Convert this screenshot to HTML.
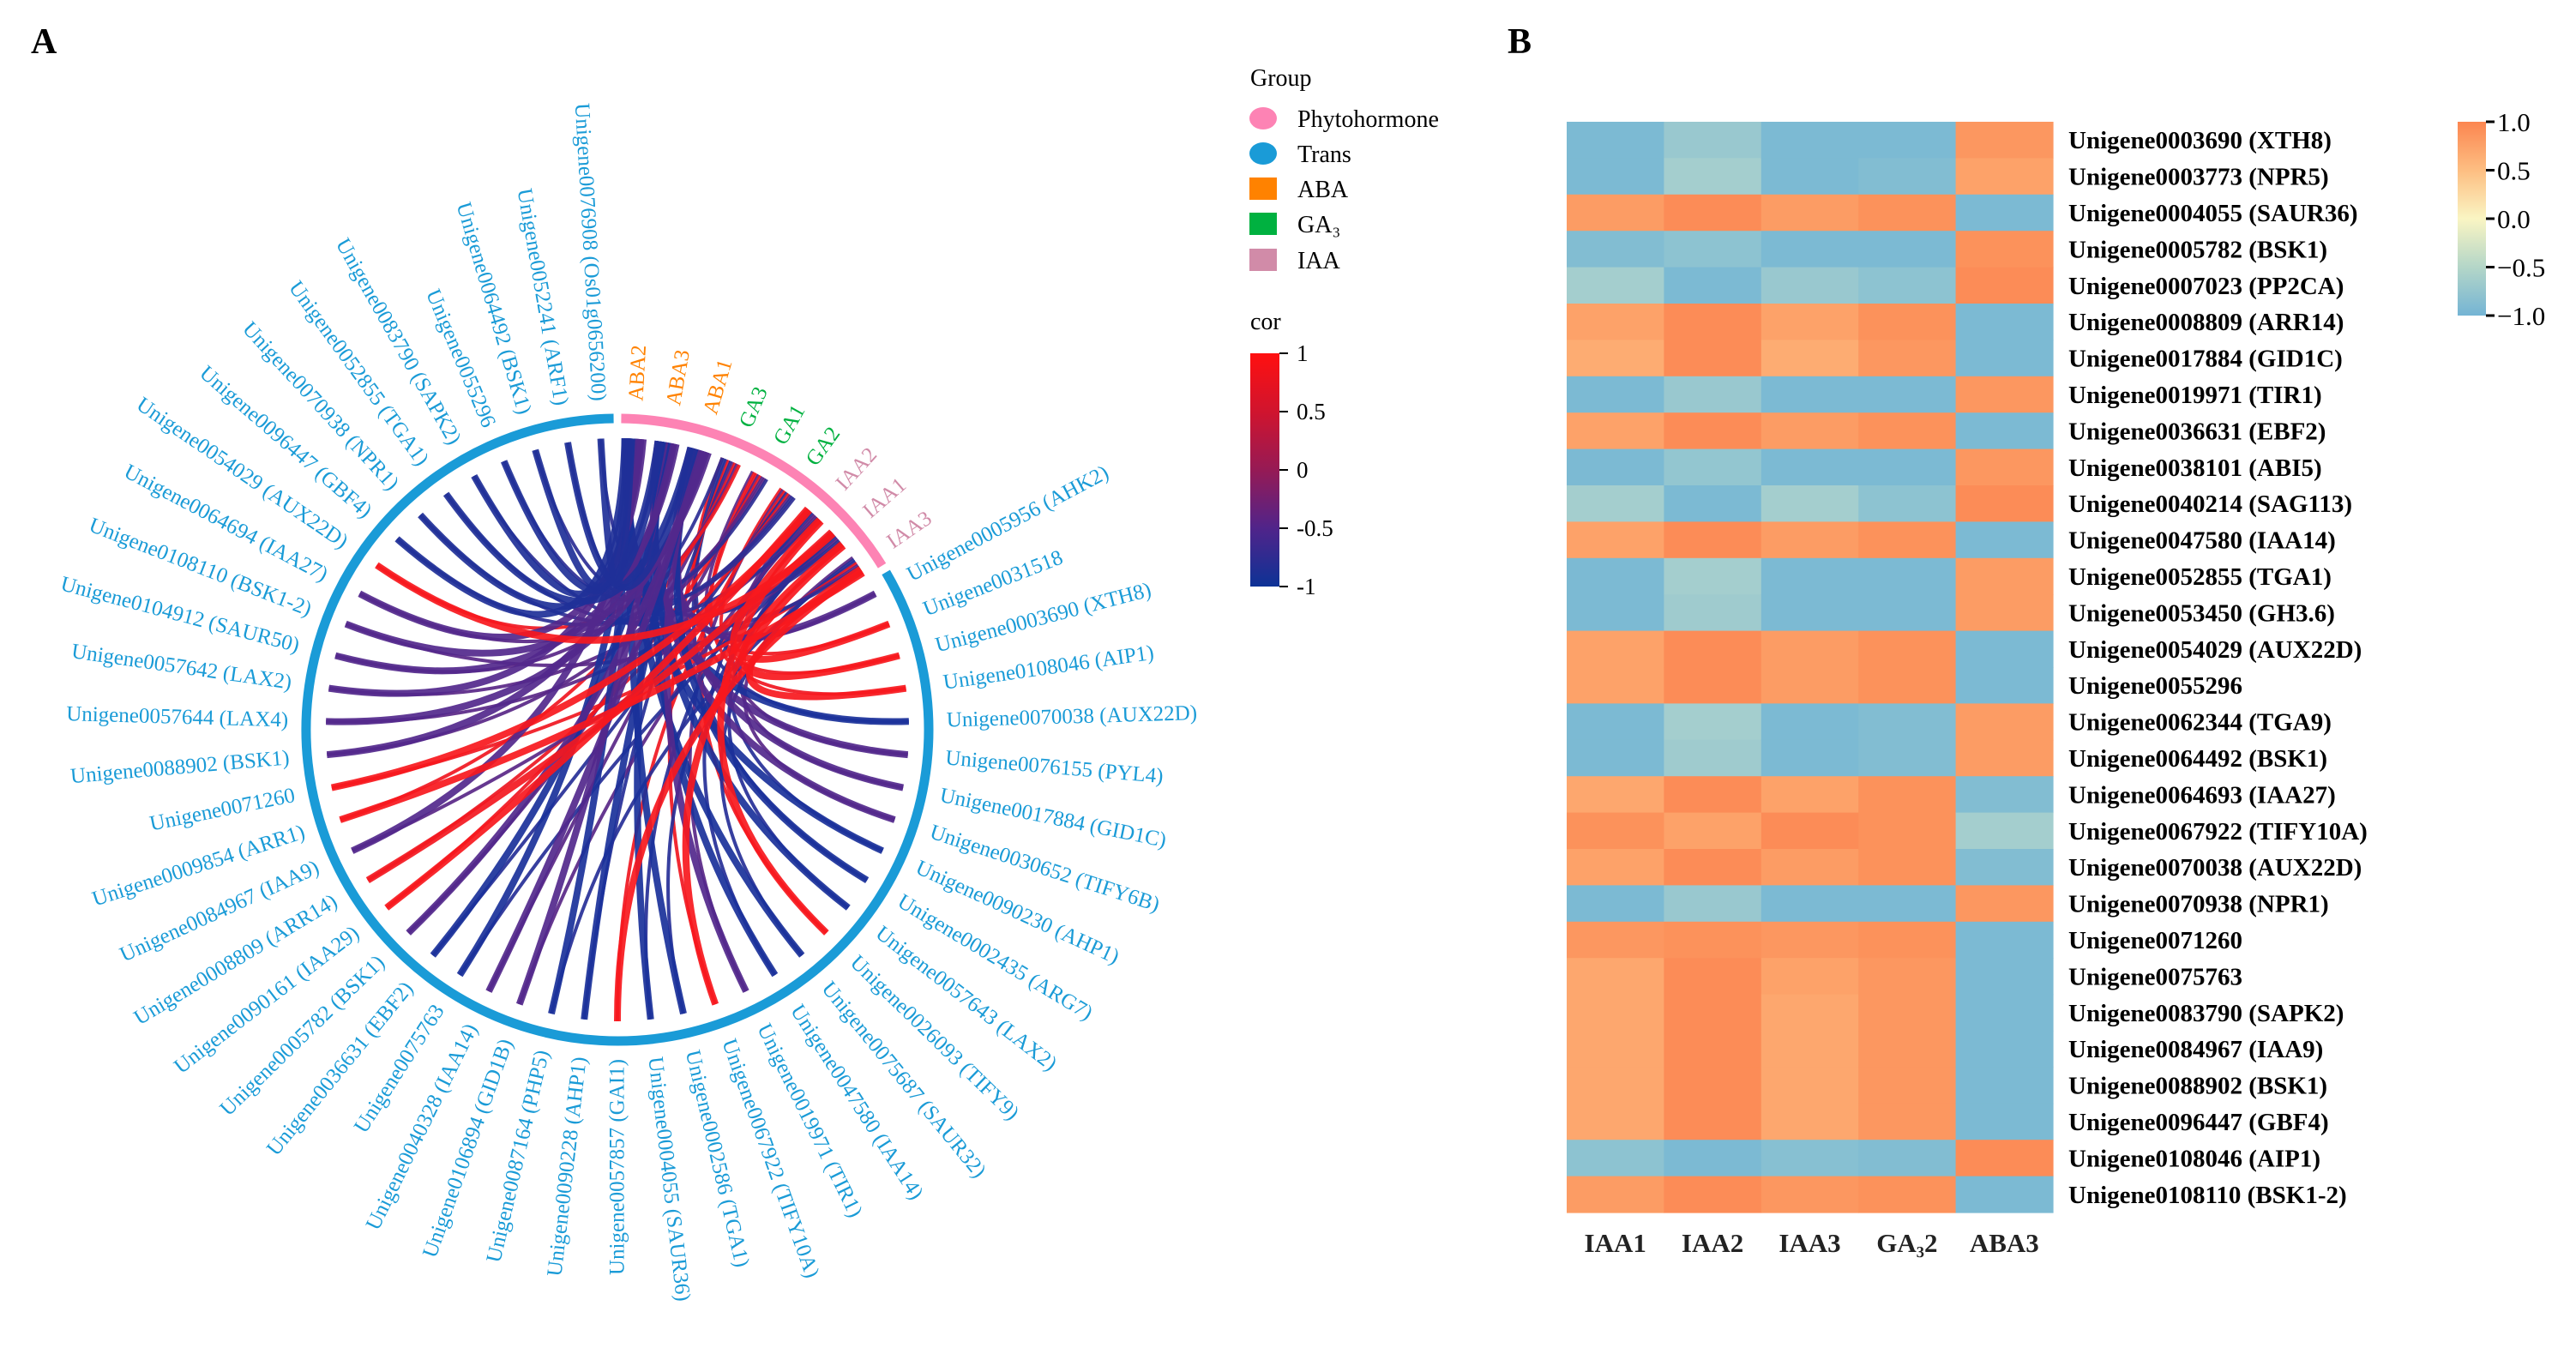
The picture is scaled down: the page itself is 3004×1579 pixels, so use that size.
<!DOCTYPE html>
<html><head><meta charset="utf-8"><style>
html,body{margin:0;padding:0;background:#fff;}
svg{display:block;font-family:"Liberation Serif",serif;}
</style></head><body>
<svg id="fig" width="3004" height="1579" viewBox="0 0 3004 1579" xmlns="http://www.w3.org/2000/svg">
<defs>
<linearGradient id="corGrad" x1="0" y1="1" x2="0" y2="0">
<stop offset="0" stop-color="#0d3296"/><stop offset="0.25" stop-color="#50248a"/><stop offset="0.5" stop-color="#961a55"/><stop offset="0.75" stop-color="#d0142e"/><stop offset="1" stop-color="#ff1010"/>
</linearGradient>
<linearGradient id="heatGrad" x1="0" y1="1" x2="0" y2="0">
<stop offset="0" stop-color="#74b4d4"/><stop offset="0.25" stop-color="#b4d6c8"/><stop offset="0.5" stop-color="#faf5c3"/><stop offset="0.75" stop-color="#fdbe82"/><stop offset="1" stop-color="#fc8550"/>
</linearGradient>
</defs>
<text x="36" y="62" font-size="42" font-weight="bold">A</text>
<text x="1758" y="62" font-size="42" font-weight="bold">B</text>
<g id="chord"></g>
<g id="legend">
<text x="1458" y="100" font-size="28">Group</text>
<ellipse cx="1473" cy="138" rx="16" ry="13" fill="#fd83b4"/>
<text x="1513" y="148" font-size="28">Phytohormone</text>
<ellipse cx="1473" cy="179" rx="16" ry="13" fill="#1a9bd7"/>
<text x="1513" y="189" font-size="28">Trans</text>
<rect x="1457" y="207" width="32" height="26" fill="#ff8200"/>
<text x="1513" y="230" font-size="28">ABA</text>
<rect x="1457" y="248" width="32" height="26" fill="#00b140"/>
<text x="1513" y="271" font-size="28">GA₃</text>
<rect x="1457" y="290" width="32" height="26" fill="#d18ba8"/>
<text x="1513" y="313" font-size="28">IAA</text>
<text x="1458" y="384" font-size="28">cor</text>
<rect x="1458" y="412" width="34" height="272" fill="url(#corGrad)"/>
</g>
<g id="heat"></g>
<rect x="2866" y="142" width="33" height="226" fill="url(#heatGrad)"/>
<g id="hcb"></g>
</svg>
<script>
const NS="http://www.w3.org/2000/svg";
// ---- chord data ----
const hormones=["ABA2","ABA3","ABA1","GA3","GA1","GA2","IAA2","IAA1","IAA3"];
const hormoneGroup=["ABA","ABA","ABA","GA","GA","GA","IAA","IAA","IAA"];
const genes=["Unigene0005956 (AHK2)","Unigene0031518","Unigene0003690 (XTH8)","Unigene0108046 (AIP1)","Unigene0070038 (AUX22D)","Unigene0076155 (PYL4)","Unigene0017884 (GID1C)","Unigene0030652 (TIFY6B)","Unigene0090230 (AHP1)","Unigene0002435 (ARG7)","Unigene0057643 (LAX2)","Unigene0026093 (TIFY9)","Unigene0075687 (SAUR32)","Unigene0047580 (IAA14)","Unigene0019971 (TIR1)","Unigene0067922 (TIFY10A)","Unigene0002586 (TGA1)","Unigene0004055 (SAUR36)","Unigene0057857 (GAI1)","Unigene0090228 (AHP1)","Unigene0087164 (PHP5)","Unigene0106894 (GID1B)","Unigene0040328 (IAA14)","Unigene0075763","Unigene0036631 (EBF2)","Unigene0005782 (BSK1)","Unigene0090161 (IAA29)","Unigene0008809 (ARR14)","Unigene0084967 (IAA9)","Unigene0009854 (ARR1)","Unigene0071260","Unigene0088902 (BSK1)","Unigene0057644 (LAX4)","Unigene0057642 (LAX2)","Unigene0104912 (SAUR50)","Unigene0108110 (BSK1-2)","Unigene0064694 (IAA27)","Unigene0054029 (AUX22D)","Unigene0096447 (GBF4)","Unigene0070938 (NPR1)","Unigene0052855 (TGA1)","Unigene0083790 (SAPK2)","Unigene0055296","Unigene0064492 (BSK1)","Unigene0052241 (ARF1)","Unigene0076908 (Os01g0656200)"];
const geneCor=[-0.5,0.9,0.9,0.9,-0.95,-0.5,-0.5,-0.5,-0.95,-0.95,-0.95,0.9,-0.95,-0.95,-0.5,0.9,-0.95,-0.95,0.9,-0.95,-0.95,-0.5,-0.5,-0.95,-0.95,-0.5,0.9,0.85,-0.5,0.9,0.9,-0.5,-0.5,-0.5,-0.5,-0.5,-0.5,0.9,-0.9,-0.9,-0.9,-0.9,-0.9,-0.9,-0.9,-0.9];
const geneTarget=[2,6,7,8,0,1,2,1,0,2,1,6,0,1,2,7,0,1,8,2,0,1,2,0,1,2,6,7,0,8,6,1,2,0,1,2,0,7,0,1,2,0,1,0,2,0];
const geneTarget2=[4,3,5,4,3,6,7,8,6,3,7,4,8,6,5,3,7,6,5,3,8,6,4,7,5,3,4,5,7,3,8,4,6,5,3,8,4,3,5,6,7,8,4,5,3,7];
// ---- heatmap data ----
const heatCols=["IAA1","IAA2","IAA3","GA₃2","ABA3"];
const heatRows=["Unigene0003690 (XTH8)","Unigene0003773 (NPR5)","Unigene0004055 (SAUR36)","Unigene0005782 (BSK1)","Unigene0007023 (PP2CA)","Unigene0008809 (ARR14)","Unigene0017884 (GID1C)","Unigene0019971 (TIR1)","Unigene0036631 (EBF2)","Unigene0038101 (ABI5)","Unigene0040214 (SAG113)","Unigene0047580 (IAA14)","Unigene0052855 (TGA1)","Unigene0053450 (GH3.6)","Unigene0054029 (AUX22D)","Unigene0055296","Unigene0062344 (TGA9)","Unigene0064492 (BSK1)","Unigene0064693 (IAA27)","Unigene0067922 (TIFY10A)","Unigene0070038 (AUX22D)","Unigene0070938 (NPR1)","Unigene0071260","Unigene0075763","Unigene0083790 (SAPK2)","Unigene0084967 (IAA9)","Unigene0088902 (BSK1)","Unigene0096447 (GBF4)","Unigene0108046 (AIP1)","Unigene0108110 (BSK1-2)"];
const colIAA1=[-0.95,-0.95,0.8,-0.9,-0.6,0.75,0.65,-0.95,0.75,-0.95,-0.6,0.75,-0.95,-0.95,0.75,0.75,-0.95,-0.95,0.7,0.9,0.75,-0.95,0.85,0.7,0.7,0.7,0.7,0.7,-0.8,0.8];
const colIAA2=[-0.7,-0.6,0.95,-0.8,-0.95,0.95,0.95,-0.7,0.95,-0.75,-0.95,0.95,-0.6,-0.65,0.95,0.95,-0.6,-0.65,0.95,0.75,0.95,-0.7,0.9,0.95,0.95,0.95,0.95,0.95,-0.95,0.95];
const colIAA3=[-0.95,-0.95,0.8,-0.95,-0.7,0.75,0.65,-0.95,0.8,-0.95,-0.6,0.8,-0.95,-0.95,0.8,0.8,-0.95,-0.95,0.75,0.95,0.8,-0.95,0.85,0.75,0.7,0.7,0.7,0.7,-0.85,0.85];
const colGA2=[-0.95,-0.9,0.9,-0.95,-0.8,0.9,0.85,-0.95,0.9,-0.95,-0.8,0.9,-0.95,-0.95,0.9,0.9,-0.9,-0.9,0.9,0.9,0.9,-0.95,0.9,0.85,0.85,0.85,0.85,0.85,-0.9,0.9];
const colABA3=[0.85,0.75,-0.95,0.9,0.95,-0.95,-0.95,0.85,-0.95,0.85,0.95,-0.95,0.8,0.8,-0.95,-0.95,0.8,0.8,-0.9,-0.6,-0.9,0.85,-0.95,-0.95,-0.95,-0.95,-0.95,-0.95,0.95,-0.95];
const heatTicks=[1,0.5,0,-0.5,-1];
const heatTickLabels=["1.0","0.5","0.0","\u22120.5","\u22121.0"];
const corTicks=[1,0.5,0,-0.5,-1];
const corTickLabels=["1","0.5","0","-0.5","-1"];

function mk(tag,attrs,parent){const e=document.createElementNS(NS,tag);for(const k in attrs)e.setAttribute(k,attrs[k]);parent.appendChild(e);return e;}
function interp(stops,v){const t=(v+1)/2*(stops.length-1);const i=Math.max(0,Math.min(stops.length-2,Math.floor(t)));const f=t-i;const a=stops[i],b=stops[i+1];return "rgb("+[0,1,2].map(k=>Math.round(a[k]+(b[k]-a[k])*f)).join(",")+")";}
const corStops=[[20,50,155],[82,40,140],[150,25,85],[215,20,45],[255,25,25]];
const heatStops=[[118,183,212],[176,212,204],[250,245,195],[253,188,128],[252,135,82]];

// ---- chord diagram ----
const cx=720,cy=851,R=363,Rend=340,Rlab=384;
const N=hormones.length+genes.length, step=360/N;
const ch=document.getElementById('chord');
function pt(r,deg){const a=(deg-90)*Math.PI/180;return [cx+r*Math.cos(a),cy+r*Math.sin(a)];}
function arc(r,a0,a1,color,name){const p0=pt(r,a0),p1=pt(r,a1);const large=(a1-a0)>180?1:0;
 const e=mk('path',{d:`M${p0[0]},${p0[1]} A${r},${r} 0 ${large} 1 ${p1[0]},${p1[1]}`,fill:'none',stroke:color,'stroke-width':11},ch);
 
 }
arc(R,0.7,hormones.length*step-0.7,'#fd83b4','phytohormone-track');
arc(R,hormones.length*step+0.7,359.3,'#1a9bd7','trans-track');
const hAng=i=>(i+0.5)*step, gAng=i=>(hormones.length+i+0.5)*step;
const linkCount=new Array(hormones.length).fill(0);
function link(gi,hi,w,cor,name){
 const off=((linkCount[hi]++)%9-4)*0.45;
 const p1=pt(Rend,gAng(gi)), p2=pt(Rend,hAng(hi)+off);
 const e=mk('path',{d:`M${p1[0]},${p1[1]} Q${cx},${cy} ${p2[0]},${p2[1]}`,fill:'none',stroke:interp(corStops,cor),'stroke-width':w,'stroke-opacity':0.92},ch);
 
 }
genes.forEach((g,i)=>{link(i,geneTarget2[i],4,geneCor[i]*0.9,'chord-link-secondary');});
genes.forEach((g,i)=>{link(i,geneTarget[i],8,geneCor[i],'chord-link');});
const hColor={ABA:'#ff8200',GA:'#00b140',IAA:'#d18ba8'};
function label(text,deg,color,name){
 const p=pt(Rlab,deg);let rot,anchor;
 if(deg<180){rot=deg-90;anchor='start';}else{rot=deg+90;anchor='end';}
 const e=mk('text',{x:p[0],y:p[1],'font-size':25,fill:color,'text-anchor':anchor,'dominant-baseline':'central',transform:`rotate(${rot},${p[0]},${p[1]})`},ch);
 e.textContent=text;
 
 }
hormones.forEach((h,i)=>label(h,hAng(i),hColor[hormoneGroup[i]],'hormone-label'));
genes.forEach((g,i)=>label(g,gAng(i),'#1a9bd7','gene-label'));

// cor colorbar ticks
const lg=document.getElementById('legend');
const cbY=v=>684-(v+1)/2*272;
corTicks.forEach((v,i)=>{const y=cbY(v);
 const t=mk('line',{x1:1492,x2:1502,y1:y,y2:y,stroke:'#000','stroke-width':2},lg);
 
 
 const l=mk('text',{x:1512,y:y+9,'font-size':27},lg);l.textContent=corTickLabels[i];
 
 });

// ---- heatmap ----
const hm=document.getElementById('heat');
const hx0=1827,hx1=2394,hy0=142,hy1=1414;
const cw=(hx1-hx0)/heatCols.length, rh=(hy1-hy0)/heatRows.length;
const cols=[colIAA1,colIAA2,colIAA3,colGA2,colABA3];
cols.forEach((col,c)=>col.forEach((v,r)=>{
 const e=mk('rect',{x:hx0+c*cw,y:hy0+r*rh,width:cw+0.6,height:rh+0.6,fill:interp(heatStops,v)},hm);
 
 }));
heatRows.forEach((n,r)=>{const e=mk('text',{x:2412,y:hy0+(r+0.5)*rh+10,'font-size':29,'font-weight':'bold'},hm);e.textContent=n;
 
 });
heatCols.forEach((n,c)=>{const e=mk('text',{x:hx0+(c+0.5)*cw,y:1460,'font-size':31,'font-weight':'bold','text-anchor':'middle',fill:'#222'},hm);e.textContent=n;
 
 });
const hcb=document.getElementById('hcb');
const hY=v=>368-(v+1)/2*226;
heatTicks.forEach((v,i)=>{const y=hY(v);
 const t=mk('line',{x1:2899,x2:2909,y1:y,y2:y,stroke:'#000','stroke-width':3},hcb);
 
 
 const l=mk('text',{x:2912,y:y+11,'font-size':31},hcb);l.textContent=heatTickLabels[i];
 
 });
</script>
</body></html>
